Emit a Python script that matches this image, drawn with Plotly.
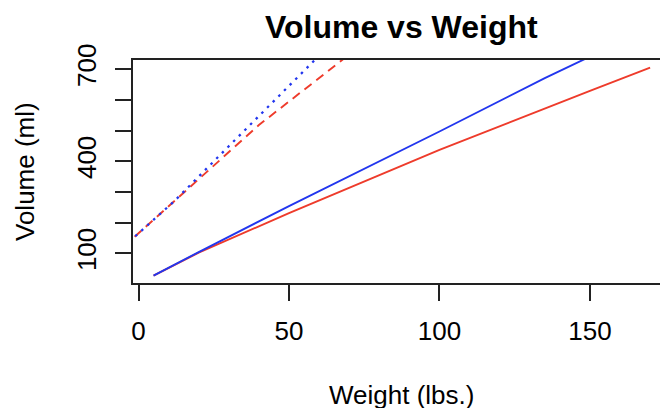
import plotly.graph_objects as go

# Data
weight_red_solid = [5, 20, 50, 100, 150, 170]
volume_red_solid = [27, 102, 231, 437, 629, 705]

weight_blue_solid = [5, 20, 50, 100, 135, 150]
volume_blue_solid = [27, 104, 254, 497, 671, 741]

weight_red_dash = [-5, 12, 40, 70]
volume_red_dash = [121, 271, 518, 748]

weight_blue_dot = [-5, 12, 30, 60]
volume_blue_dot = [121, 271, 449, 744]

x_ticks = [0, 50, 100, 150]
y_ticks = [100, 200, 300, 400, 500, 600, 700]
y_ticktext = ["100", "", "", "400", "", "", "700"]

RED = "#EE3B2B"
BLUE = "#2236EE"
FONT = "Liberation Sans, Arial, sans-serif"

# The page body adds an 8px offset, so plan in window pixels and shift.
OFF = 8
W, H = 668, 408
L, R = 133 - OFF, 0
T = 60 - OFF
B = H - (283 - OFF)
pw, ph = W - L - R, H - T - B


def px_to_paper_x(px):
    return (px - OFF - L) / pw


def px_to_paper_y(py):
    return (H - B - (py - OFF)) / ph


fig = go.Figure()
fig.add_trace(go.Scatter(x=weight_red_dash, y=volume_red_dash, mode="lines",
                         line=dict(color=RED, width=1.9, dash="9px,6px")))
fig.add_trace(go.Scatter(x=weight_blue_dot, y=volume_blue_dot, mode="lines",
                         line=dict(color=BLUE, width=2.3, dash="2.5px,5.5px")))
fig.add_trace(go.Scatter(x=weight_red_solid, y=volume_red_solid, mode="lines",
                         line=dict(color=RED, width=1.9)))
fig.add_trace(go.Scatter(x=weight_blue_solid, y=volume_blue_solid, mode="lines",
                         line=dict(color=BLUE, width=1.9)))

fig.update_layout(
    width=W, height=H,
    margin=dict(l=L, r=R, t=T, b=B, autoexpand=False),
    paper_bgcolor="white", plot_bgcolor="white",
    showlegend=False,
    font=dict(family=FONT, size=26, color="black"),
    xaxis=dict(range=[-1.83, 178.6], tickvals=x_ticks, ticks="outside",
               ticklen=16, tickwidth=1.5, tickcolor="#222",
               showline=True, linecolor="#222", linewidth=1.5, mirror=True,
               showgrid=False, zeroline=False, ticklabelstandoff=8,
               automargin=False, tickfont=dict(size=26)),
    yaxis=dict(range=[3.2, 730], tickvals=y_ticks, ticktext=y_ticktext,
               ticks="outside", ticklen=16, tickwidth=1.5, tickcolor="#222",
               showline=True, linecolor="#222", linewidth=1.5,
               showgrid=False, zeroline=False, tickangle=-90,
               ticklabelstandoff=9, automargin=False,
               tickfont=dict(size=26)),
    annotations=[
        dict(text="<b>Volume vs Weight</b>", x=px_to_paper_x(401),
             y=px_to_paper_y(27), xref="paper", yref="paper",
             xanchor="center", yanchor="middle", showarrow=False,
             font=dict(size=32)),
        dict(text="Weight (lbs.)", x=px_to_paper_x(401), y=px_to_paper_y(395),
             xref="paper", yref="paper", xanchor="center", yanchor="middle",
             showarrow=False, font=dict(size=26)),
        dict(text="Volume (ml)", textangle=-90, x=px_to_paper_x(25),
             y=px_to_paper_y(172), xref="paper", yref="paper",
             xanchor="center", yanchor="middle", showarrow=False,
             font=dict(size=26)),
    ],
)

fig.write_html("out.html")
